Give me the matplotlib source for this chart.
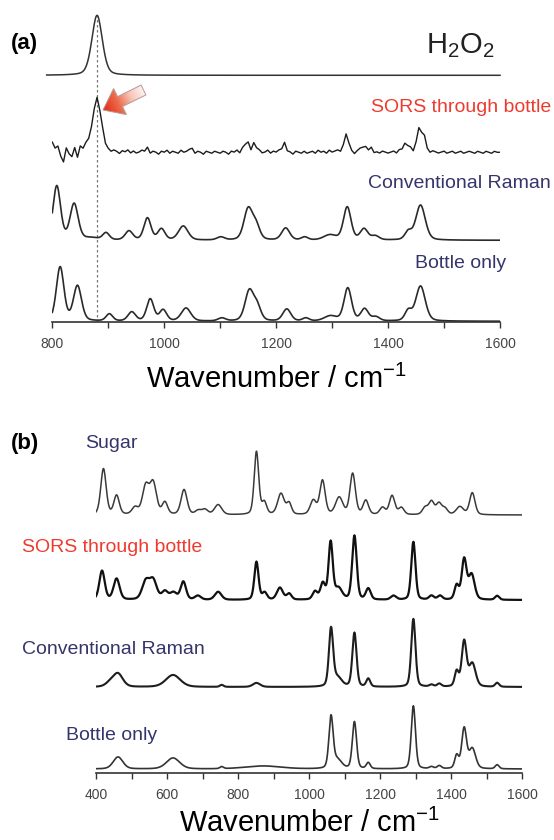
import numpy as np
import matplotlib.pyplot as plt
from matplotlib.patches import Polygon
from matplotlib.colors import LinearSegmentedColormap

plt.rcParams['font.family'] = ['Liberation Sans', 'DejaVu Sans']
plt.rcParams['mathtext.default'] = 'regular'

# ---- panel (a) peak tables: centre (cm-1), height, FWHM (cm-1) ----
h2o2_centers = [880]
h2o2_heights = [60]
h2o2_widths = [22]

sors_a_centers = [880, 1148, 1162, 1215, 1326, 1356, 1369, 1433, 1455, 1463]
sors_a_heights = [55, 9, 7, 7, 18, 5, 4, 7, 20, 17]
sors_a_widths = [18, 10, 10, 8, 9, 10, 10, 12, 9, 9]
# jitter of the SORS trace, one value every 5 cm-1 from 800 to 1600
sors_a_noise = [10, 4, 6, -4, -10, 4, -2, -5, 4, -6, 5, 2, 6, 4, 2, 0, 0, -2, 1, -1,
                0, -1, 1, 0, -2, 1, 0, 2, -1, 1, -1, 0, 2, 1, 5, -1, 1, 0, -2, 1,
                0, 2, -1, 1, 0, -1, 2, 0, 1, 3, 4, -1, 1, 0, -2, 1, 0, -1, 1, 0,
                -1, 1, 0, -2, 1, 0, 2, -1, 3, 1, 2, -2, 3, -1, 1, -1, 0, 2, -1, 1,
                0, 2, 1, 3, -1, 0, -2, 1, 0, -1, 1, -1, 0, 1, -1, 2, 0, 1, -1, 2,
                0, 1, 2, 0, 2, 1, -1, 0, -2, 1, 2, 0, 2, -1, 1, -2, 0, -1, 1, 0,
                -1, 0, 1, -1, 2, 1, 3, 0, 2, -1, 1, 2, -1, 1, 0, -1, 1, 0, -1, 0,
                1, -1, 0, 1, -1, 0, 1, -1, 0, 1, 0, -1, 1, 0, -1, 1, 0, -1, 1, 0, 0]

conv_a_centers = [808, 839, 870, 896, 937, 970, 995, 1034, 1101, 1150, 1164, 1217,
                  1251, 1296, 1327, 1357, 1377, 1436, 1458]
conv_a_heights = [54, 36, 2, 7, 9, 22, 11, 14, 3, 31, 14, 12, 3, 5, 33, 11, 4, 8, 35]
conv_a_widths = [16, 17, 30, 14, 16, 15, 15, 20, 16, 18, 16, 17, 14, 26, 16, 16, 16, 14, 20]

bottle_a_centers = [814, 845, 902, 942, 975, 998, 1039, 1103, 1152, 1166, 1219, 1253,
                    1297, 1328, 1358, 1378, 1436, 1458]
bottle_a_heights = [54, 35, 7, 9, 22, 11, 13, 3, 30, 14, 12, 3, 5, 33, 12, 4, 10, 35]
bottle_a_widths = [16, 17, 14, 16, 15, 15, 20, 16, 18, 16, 17, 14, 26, 16, 16, 16, 14, 20]

# ---- panel (b) peak tables ----
sugar_centers = [421, 458, 510, 540, 561, 594, 648, 688, 707, 744, 852, 874, 921, 944,
                 1012, 1038, 1085, 1123, 1160, 1207, 1234, 1260, 1327, 1345, 1366,
                 1383, 1425, 1460]
sugar_heights = [46, 19, 7, 28, 31, 12, 25, 4, 5, 10, 63, 12, 21, 11, 14, 34, 17, 41,
                 14, 7, 19, 7, 7, 13, 11, 6, 8, 22]
sugar_widths = [18, 18, 20, 22, 22, 18, 20, 20, 20, 24, 15, 16, 22, 16, 20, 18, 24, 18,
                18, 18, 18, 18, 18, 18, 18, 18, 24, 18]

sors_b_centers = [417, 458, 540, 561, 594, 618, 646, 687, 744, 852, 875, 918, 944, 1017,
                  1039, 1061, 1083, 1128, 1167, 1238, 1294, 1345, 1369, 1416, 1437,
                  1458, 1530]
sors_b_heights = [29, 21, 18, 19, 8, 7, 18, 4, 8, 38, 7, 12, 6, 8, 16, 57, 11, 64, 11,
                  4, 58, 4, 4, 14, 40, 25, 4]
sors_b_widths = [18, 20, 24, 24, 20, 22, 18, 20, 22, 14, 16, 20, 16, 16, 16, 14, 24, 15,
                 16, 18, 14, 16, 16, 14, 16, 20, 14]

conv_b_centers = [440, 462, 617, 754, 852, 1062, 1080, 1128, 1167, 1294, 1345, 1367,
                  1416, 1437, 1460, 1530]
conv_b_heights = [4, 13, 12, 2, 4, 57, 9, 54, 8, 68, 2, 3, 15, 45, 23, 4]
conv_b_widths = [30, 32, 48, 12, 24, 14, 28, 14, 13, 14, 14, 14, 13, 16, 22, 13]

bottle_b_centers = [462, 617, 754, 870, 1062, 1080, 1128, 1167, 1294, 1345, 1367, 1416,
                    1437, 1460, 1530]
bottle_b_heights = [12, 11, 2, 3, 51, 9, 47, 6, 63, 2, 3, 13, 40, 20, 4]
bottle_b_widths = [32, 44, 12, 120, 14, 28, 14, 13, 14, 14, 14, 13, 16, 22, 13]


def spectrum(x, centers, heights, widths, eta=0.3):
    # pseudo-Voigt sum of the peaks
    y = np.zeros_like(x, dtype=float)
    for c, h, w in zip(centers, heights, widths):
        d = (x - c) / (w / 2.0)
        y += h * (eta / (1 + d ** 2) + (1 - eta) * np.exp(-np.log(2) * d ** 2))
    return y


W, H = 554, 840
fig = plt.figure(figsize=(W / 100, H / 100), dpi=100)


def px_axes(left, right, bottom, top):
    ax = fig.add_axes([left / W, 1 - bottom / H, (right - left) / W, (bottom - top) / H])
    ax.set_ylim(0, bottom - top)   # one y unit = one pixel
    for s in ['left', 'top', 'right']:
        ax.spines[s].set_visible(False)
    ax.spines['bottom'].set_color('#333333')
    ax.spines['bottom'].set_linewidth(1.2)
    ax.set_yticks([])
    ax.patch.set_visible(False)
    return ax


def style_xaxis(ax, lo, hi):
    ax.set_xlim(lo, hi)
    ax.set_xticks(np.arange(lo, hi + 1, 200))
    ax.set_xticks(np.arange(lo, hi + 1, 100), minor=True)
    ax.tick_params(axis='x', which='both', direction='out', length=4.5, width=1,
                   color='#333333', labelsize=10, labelcolor='#444444', pad=6)


ink = '#1c1c1c'

# ---------------- panel (a) ----------------
ax_a = px_axes(52.3, 500, 322.3, 8)
style_xaxis(ax_a, 800, 1600)

xa = np.arange(790, 1601, 1.0)
xa0 = np.arange(800, 1601, 1.0)
xs = np.arange(800, 1601, 5.0)

ax_a.plot([h2o2_centers[0]] * 2, [0, 306], color='#777777', lw=0.9,
          linestyle=(0, (2, 2)), zorder=1)
ax_a.plot(xa, 247 + spectrum(xa, h2o2_centers, h2o2_heights, h2o2_widths),
          color='#333333', lw=1.1, clip_on=False)
ax_a.plot(xs, 170 + spectrum(xs, sors_a_centers, sors_a_heights, sors_a_widths)
          + np.array(sors_a_noise), color=ink, lw=1.0)
ax_a.plot(xa0, 82 + spectrum(xa0, conv_a_centers, conv_a_heights, conv_a_widths),
          color='#2a2a2a', lw=1.2)
ax_a.plot(xa0, 1 + spectrum(xa0, bottle_a_centers, bottle_a_heights, bottle_a_widths),
          color='#2a2a2a', lw=1.2)

# ---------------- panel (b) ----------------
ax_b = px_axes(96, 522, 773, 430)
style_xaxis(ax_b, 400, 1600)

xb = np.arange(400, 1601, 1.0)
ax_b.plot(xb, 258 + spectrum(xb, sugar_centers, sugar_heights, sugar_widths),
          color='#3a3a3a', lw=1.1)
ax_b.plot(xb, 173 + spectrum(xb, sors_b_centers, sors_b_heights, sors_b_widths),
          color='#111111', lw=1.6)
ax_b.plot(xb, 86 + spectrum(xb, conv_b_centers, conv_b_heights, conv_b_widths),
          color='#1e1e1e', lw=1.5)
ax_b.plot(xb, 4 + spectrum(xb, bottle_b_centers, bottle_b_heights, bottle_b_widths),
          color='#333333', lw=1.2)

# ---------------- overlay in pixel coordinates for labels and arrow ----------------
ov = fig.add_axes([0, 0, 1, 1])
ov.patch.set_visible(False)
ov.axis('off')

red = '#ee3b2f'
navy = '#35356b'
ov.text(10.5, 44, '(a)', fontsize=16, fontweight='bold', ha='left', va='center')
ov.text(495, 53, 'H$_2$O$_2$', fontsize=21, ha='right', va='baseline', color='#222222')
ov.text(551, 107, 'SORS through bottle', fontsize=14, color=red, ha='right', va='center')
ov.text(551, 183, 'Conventional Raman', fontsize=14, color=navy, ha='right', va='center')
ov.text(506, 263, 'Bottle only', fontsize=14, color=navy, ha='right', va='center')
ov.text(276, 388, 'Wavenumber / cm$^{-1}$', fontsize=21, ha='center', va='baseline')

ov.text(10.5, 443, '(b)', fontsize=16, fontweight='bold', ha='left', va='center')
ov.text(85.5, 443, 'Sugar', fontsize=14, color=navy, ha='left', va='center')
ov.text(22, 547, 'SORS through bottle', fontsize=14, color=red, ha='left', va='center')
ov.text(22, 649, 'Conventional Raman', fontsize=14, color=navy, ha='left', va='center')
ov.text(66.4, 735, 'Bottle only', fontsize=14, color=navy, ha='left', va='center')
ov.text(309, 832, 'Wavenumber / cm$^{-1}$', fontsize=21, ha='center', va='baseline')

# gradient arrow pointing at the H2O2 band in the SORS trace
tip = np.array([103.0, 110.0])
tail = np.array([143.5, 90.0])
L = np.linalg.norm(tail - tip)
u = (tail - tip) / L
n = np.array([-u[1], u[0]])
hl, hw, sw = 19.0, 14.5, 5.5
pts = [tip, tip + u * hl + n * hw, tip + u * hl + n * sw, tip + u * L + n * sw,
       tip + u * L - n * sw, tip + u * hl - n * sw, tip + u * hl - n * hw]
arrow = Polygon(pts, closed=True, fc='none', ec='#b59a94', lw=0.7, zorder=3)
ov.add_patch(arrow)
x0, x1, y0, y1 = 85, 160, 75, 130
gx, gy = np.meshgrid(np.linspace(x0, x1, 120), np.linspace(y0, y1, 120))
t = ((gx - tip[0]) * u[0] + (gy - tip[1]) * u[1]) / L
cmap = LinearSegmentedColormap.from_list('arr', ['#e4321c', '#ec6a4c', '#f7c4b6', '#fdf3f0'])
im = ov.imshow(t, extent=[x0, x1, y1, y0], origin='upper', cmap=cmap, vmin=0.05,
               vmax=1.0, aspect='auto', zorder=2)
im.set_clip_path(arrow)

ov.set_xlim(0, W)
ov.set_ylim(H, 0)

fig.savefig('out.png', dpi=100)
